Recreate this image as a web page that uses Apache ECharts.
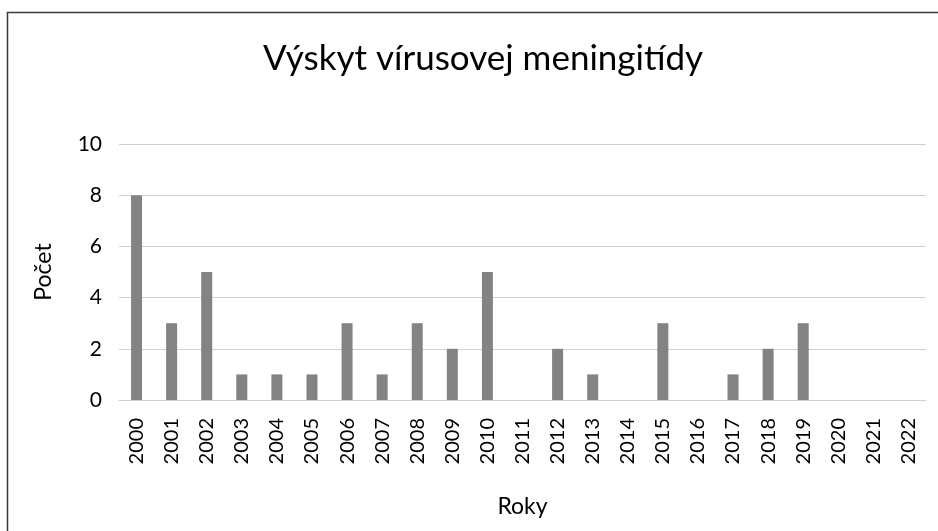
<!DOCTYPE html>
<html>
<head>
<meta charset="utf-8">
<script src="https://cdn.jsdelivr.net/npm/echarts@6/dist/echarts.min.js"></script>
<style>
  html, body { margin: 0; padding: 0; background: #fff; }
  #chart { width: 938px; height: 531px; }
</style>
</head>
<body>
<div id="chart"></div>
<script>
// data
const years = ['2000','2001','2002','2003','2004','2005','2006','2007','2008','2009','2010','2011',
  '2012','2013','2014','2015','2016','2017','2018','2019','2020','2021','2022'];
const counts = [8, 3, 5, 1, 1, 1, 3, 1, 3, 2, 5, 0, 2, 1, 0, 3, 0, 1, 2, 3, 0, 0, 0];
const yTicks = [0, 2, 4, 6, 8, 10];

const chart = echarts.init(document.getElementById('chart'));
const font = 'Lato, "Liberation Sans", sans-serif';

chart.setOption({
  animation: false,
  title: {
    text: 'Výskyt vírusovej meningitídy',
    left: 478,
    top: 36,
    textAlign: 'center',
    textStyle: { fontFamily: font, fontSize: 35, fontWeight: 'normal', color: '#000' }
  },
  graphic: [{
    type: 'rect',
    shape: { x: 7.5, y: 12.5, width: 1200, height: 1200 },
    style: { fill: 'none', stroke: '#3a3a3a', lineWidth: 1.5 },
    silent: true
  }],
  grid: { left: 119, right: 12, top: 144, bottom: 131 },
  xAxis: {
    type: 'category',
    data: years,
    name: 'Roky',
    nameLocation: 'middle',
    nameGap: 95,
    nameTextStyle: { fontFamily: font, fontSize: 23, color: '#000' },
    axisLine: { show: true, lineStyle: { color: '#d0d0d0', width: 1 } },
    axisTick: { show: false },
    axisLabel: { rotate: 90, margin: 18, fontFamily: font, fontSize: 20, color: '#000' }
  },
  yAxis: {
    type: 'value',
    min: yTicks[0],
    max: yTicks[yTicks.length - 1],
    interval: yTicks[1] - yTicks[0],
    name: 'Počet',
    nameLocation: 'middle',
    nameGap: 64,
    nameRotate: 90,
    nameTextStyle: { fontFamily: font, fontSize: 23, color: '#000' },
    axisLine: { show: false },
    axisTick: { show: false },
    axisLabel: { margin: 17, fontFamily: font, fontSize: 21, color: '#000' },
    splitLine: { lineStyle: { color: '#d0d0d0', width: 1 } }
  },
  series: [{
    type: 'bar',
    data: counts,
    barWidth: 11,
    itemStyle: { color: '#838383' }
  }]
});
</script>
</body>
</html>
